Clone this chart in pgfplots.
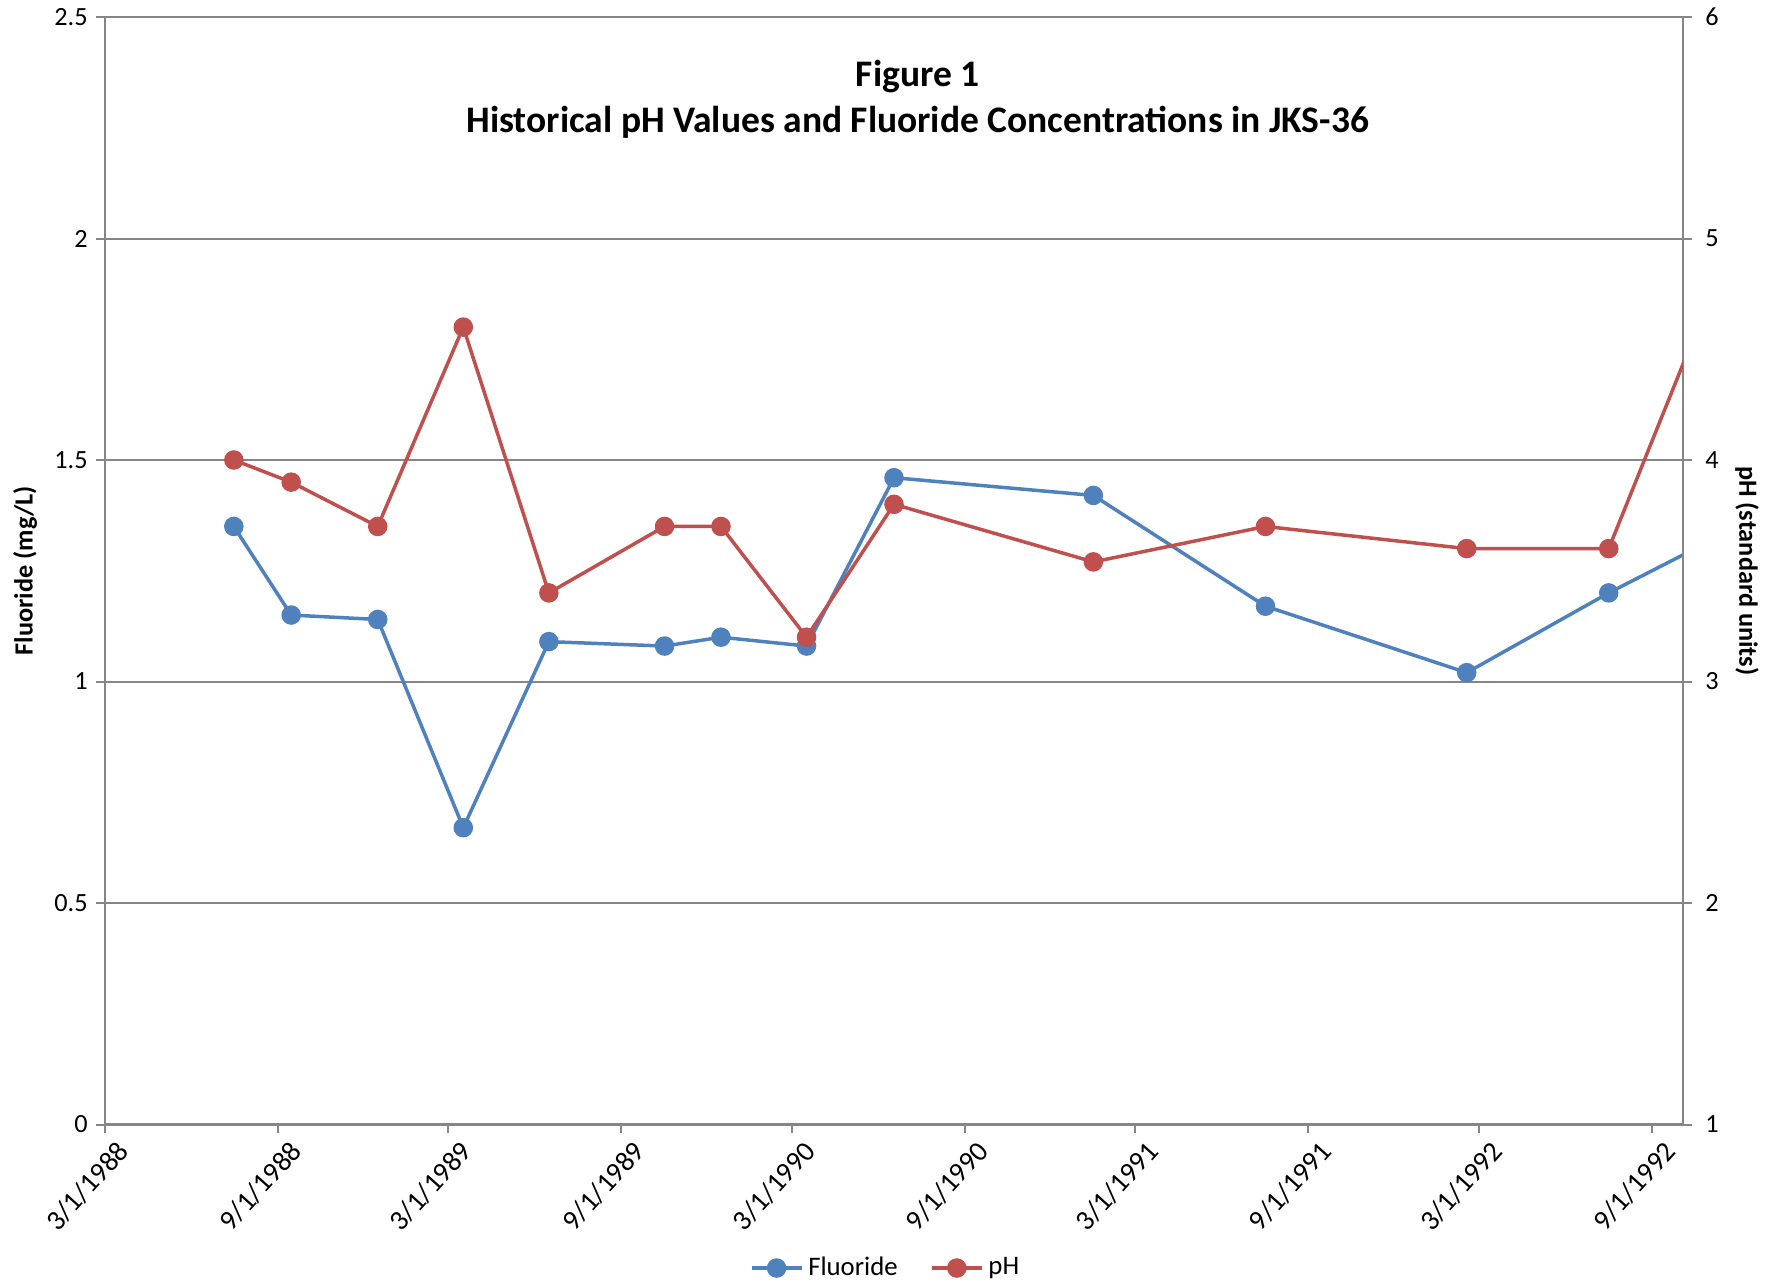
\documentclass[border=0pt]{standalone}
\usepackage{fontspec}
\setmainfont{Carlito}
\usepackage{pgfplots}
\pgfplotsset{compat=1.18}
\definecolor{fblue}{RGB}{79,129,189}
\definecolor{pred}{RGB}{192,80,77}
\definecolor{gridgray}{RGB}{134,134,134}
\begin{document}
\begin{tikzpicture}[font=\fontsize{10.3}{12}\selectfont]
\path[use as bounding box] (-42pt,-64.6pt) rectangle (666.8pt,449.8pt);
\pgfplotsset{
  every axis/.append style={
    scale only axis, width=631.2pt, height=443pt,
    xmin=0, xmax=1678, clip=true,
    axis line style={gridgray, line width=0.8pt},
    tick style={gridgray, line width=0.8pt},
    major tick length=3.4pt,
    tick align=outside,
    legend image code/.code={
      \draw[mark repeat=2, mark phase=2] plot coordinates {(0cm,0cm) (0.35cm,0cm) (0.7cm,0cm)};
    },
  }
}
\begin{axis}[
  ymin=0, ymax=2.5,
  ytick={0,0.5,1,1.5,2,2.5},
  yticklabels={0,0.5,1,1.5,2,2.5},
  axis x line*=bottom, axis y line*=left,
  x axis line style={line width=1.2pt},
  ymajorgrids, major grid style={gridgray, line width=0.8pt},
  xtick={0,184,365,549,730,914,1095,1279,1461,1645},
  xticklabels={3/1/1988,9/1/1988,3/1/1989,9/1/1989,3/1/1990,9/1/1990,3/1/1991,9/1/1991,3/1/1992,9/1/1992},
  xticklabel style={rotate=48, anchor=east, xshift=4.5pt, yshift=-9pt, font=\fontsize{11.3}{12}\selectfont},
  yticklabel style={font=\fontsize{10.5}{12}\selectfont},
  ytick pos=left, xtick pos=bottom,
  ylabel={\bfseries Fluoride (mg/L)},
  ylabel style={at={(axis description cs:-0.0507,0.5)}, anchor=center, rotate=0, font=\fontsize{10.5}{12}\selectfont},
]
\addplot[color=fblue, line width=1.4pt, mark=*, mark size=3.2pt, mark indices={1,2,3,4,5,6,7,8,9,10,11,12,13}, mark options={solid, fill=fblue, draw=fblue}]
 coordinates {
 (137,1.35) (198,1.15) (290,1.14) (381,0.67) (472,1.09) (595,1.08) (655,1.10)
 (746,1.08) (839,1.46) (1051,1.42) (1234,1.17) (1448,1.02) (1599,1.20) (1691,1.30)
 };
\node[align=center, font=\bfseries\fontsize{15}{18.2}\selectfont] at (axis description cs:0.515,0.9257)
 {Figure 1\\Historical pH Values and Fluoride Concentrations in JKS-36};
\end{axis}
\begin{axis}[
  ymin=1, ymax=6,
  ytick={1,2,3,4,5,6},
  yticklabels={1,2,3,4,5,6},
  yticklabel style={font=\fontsize{10.5}{12}\selectfont, xshift=2pt},
  axis y line*=right, axis x line=none,
  ytick pos=right,
  ylabel={\bfseries pH (standard units)},
  ylabel style={at={(axis description cs:1.0406,0.5)}, anchor=center, rotate=180, font=\fontsize{10.5}{12}\selectfont},
  legend style={at={(axis description cs:0.4956,-0.1296)}, anchor=center, draw=none, fill=none,
    legend columns=-1, /tikz/every even column/.append style={column sep=11pt},
    font=\fontsize{10.7}{12}\selectfont},
]
\addlegendimage{color=fblue, line width=1.4pt, mark=*, mark size=3.2pt, mark options={solid, fill=fblue}}
\addlegendentry{Fluoride}
\addlegendimage{color=pred, line width=1.4pt, mark=*, mark size=3.2pt, mark options={solid, fill=pred}}
\addlegendentry{pH}
\addplot[forget plot, color=pred, line width=1.4pt, mark=*, mark size=3.2pt, mark indices={1,2,3,4,5,6,7,8,9,10,11,12,13}, mark options={solid, fill=pred, draw=pred}]
 coordinates {
 (137,4.0) (198,3.9) (290,3.7) (381,4.6) (472,3.4) (595,3.7) (655,3.7)
 (746,3.2) (839,3.8) (1051,3.54) (1234,3.7) (1448,3.6) (1599,3.6) (1691,4.57)
 };
\end{axis}
\end{tikzpicture}
\end{document}
